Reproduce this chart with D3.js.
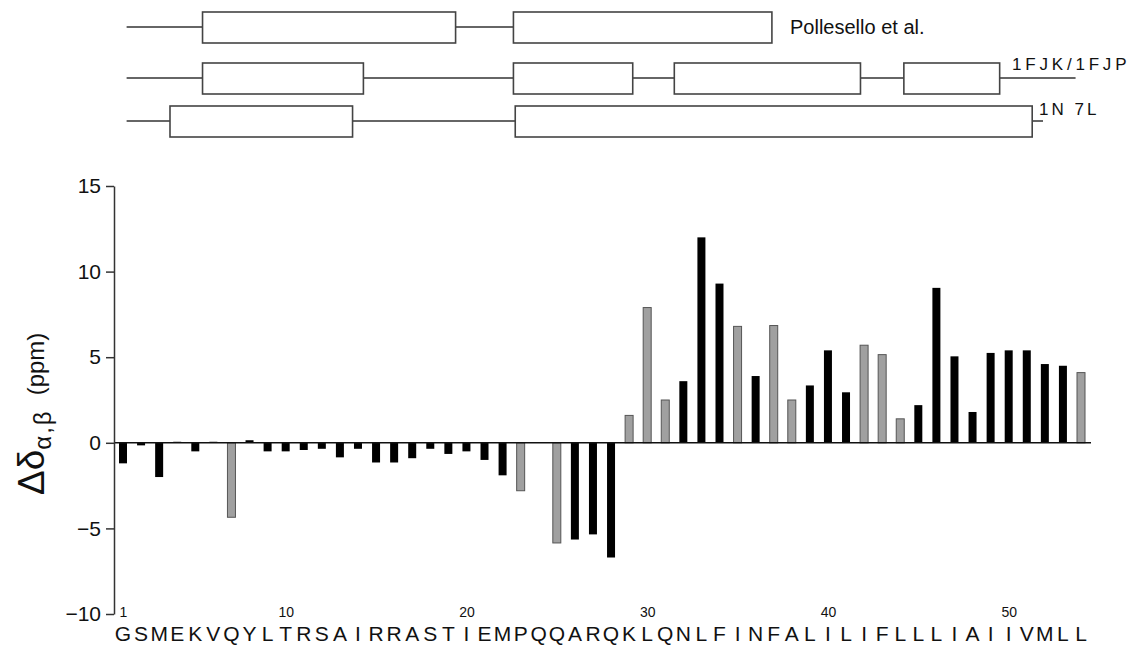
<!DOCTYPE html>
<html>
<head>
<meta charset="utf-8">
<script src="https://cdn.jsdelivr.net/npm/d3@7"></script>
<style>
  body { margin: 0; background: #fff; }
  svg { display: block; font-family: "Liberation Sans", Arial, sans-serif; }
</style>
</head>
<body>
<svg width="1143" height="648"></svg>
<script>
// chemical shift deviation per residue, with helix maps on top

// residue numbers and one-letter sequence
var residues = [1,2,3,4,5,6,7,8,9,10,11,12,13,14,15,16,17,18,19,20,21,22,23,24,25,26,27,
    28,29,30,31,32,33,34,35,36,37,38,39,40,41,42,43,44,45,46,47,48,49,50,51,52,53,54];
var sequence = ['G','S','M','E','K','V','Q','Y','L','T','R','S','A','I','R','R','A','S','T','I',
    'E','M','P','Q','Q','A','R','Q','K','L','Q','N','L','F','I','N','F','A','L','I',
    'L','I','F','L','L','L','I','A','I','I','V','M','L','L'];
// delta values (ppm), null = no data
var shifts = [-1.2,-0.15,-2.0,0.06,-0.5,0.06,-4.35,0.15,-0.5,-0.5,-0.42,-0.35,-0.85,-0.35,-1.15,
    -1.15,-0.9,-0.35,-0.65,-0.5,-1.0,-1.9,-2.8,null,-5.85,-5.65,-5.35,-6.7,1.6,7.9,
    2.5,3.6,12.0,9.3,6.8,3.9,6.85,2.5,3.35,5.4,2.95,5.7,5.15,1.4,2.2,9.05,5.05,1.8,5.25,
    5.4,5.4,4.6,4.5,4.1];
// residues drawn in grey
var greyResidues = [7,23,25,29,30,31,35,37,38,42,43,44,54];

var yTicks = [-10,-5,0,5,10,15];
var xTicks = [1,10,20,30,40,50];

// helix boxes in residue units, per structure
var trackNames = ['Pollesello et al.', '1FJK/1FJP', '1N7L'];
var polleselloHelices = [[5.4,19.4],[22.6,36.9]];
var fjkHelices = [[5.4,14.3],[22.6,29.2],[31.5,41.8],[44.2,49.5]];
var n7lHelices = [[3.6,13.7],[22.7,51.3]];
var trackLineEnds = [36.9, 53.7, 51.9];

const svg = d3.select('svg');

var x = d3.scaleLinear().domain([1,54]).range([123,1081]);
var y = d3.scaleLinear().domain([-10,15]).range([614,186]);

// ---- secondary structure tracks
var tracks = [
    {name: trackNames[0], helices: polleselloHelices, end: trackLineEnds[0]},
    {name: trackNames[1], helices: fjkHelices, end: trackLineEnds[1]},
    {name: trackNames[2], helices: n7lHelices, end: trackLineEnds[2]}
];
var trackY = [27, 78, 121];

var tg = svg.append('g');
tracks.forEach(function(t, i) {
    var cy = trackY[i];
    tg.append('line')
        .attr('x1', x(1.2)).attr('x2', x(t.end))
        .attr('y1', cy).attr('y2', cy)
        .attr('stroke', '#333').attr('stroke-width', 1.6);
    tg.selectAll('.h' + i)
        .data(t.helices)
        .enter()
        .append('rect')
        .attr('x', function(d) { return x(d[0]); })
        .attr('width', function(d) { return x(d[1]) - x(d[0]); })
        .attr('y', cy - 15)
        .attr('height', 31)
        .attr('fill', '#fff')
        .attr('stroke', '#444')
        .attr('stroke-width', 1.6);
});

tg.append('text')
    .attr('x', 790).attr('y', 34)
    .attr('font-size', 20)
    .attr('fill', '#111')
    .text(trackNames[0]);
tg.append('text')
    .attr('x', 1012).attr('y', 70)
    .attr('font-size', 17)
    .attr('letter-spacing', 3.8)
    .attr('fill', '#111')
    .text(trackNames[1]);
tg.append('text')
    .attr('x', 1039).attr('y', 115)
    .attr('font-size', 17)
    .attr('letter-spacing', 3)
    .attr('fill', '#111')
    .text('1N 7L');

// ---- bars
var bars = residues.map(function(r, i) {
    return {res: r, val: shifts[i], grey: greyResidues.indexOf(r) >= 0};
}).filter(function(d) { return d.val !== null; });

var bw = 8;
svg.append('g')
    .selectAll('rect')
    .data(bars)
    .enter()
    .append('rect')
    .attr('x', function(d) { return x(d.res) - bw / 2; })
    .attr('width', bw)
    .attr('y', function(d) { return y(Math.max(0, d.val)); })
    .attr('height', function(d) { return Math.abs(y(d.val) - y(0)); })
    .attr('fill', function(d) { return d.grey ? '#a0a0a0' : '#000'; })
    .attr('stroke', function(d) { return d.grey ? '#555' : 'none'; })
    .attr('stroke-width', 1);

// zero line
svg.append('line')
    .attr('x1', 114).attr('x2', 1091)
    .attr('y1', y(0)).attr('y2', y(0))
    .attr('stroke', '#111').attr('stroke-width', 1.5);

// ---- y axis
var yAxis = svg.append('g')
    .attr('transform', 'translate(114,0)')
    .call(d3.axisLeft(y).tickValues(yTicks).tickSize(8).tickSizeOuter(0).tickPadding(5));
yAxis.select('.domain').attr('stroke', '#333').attr('stroke-width', 1.5);
yAxis.selectAll('.tick line').attr('stroke', '#333').attr('stroke-width', 1.5);
yAxis.selectAll('.tick text')
    .attr('font-size', 21)
    .attr('font-family', '"Liberation Sans", Arial, sans-serif')
    .attr('fill', '#111');

// y label
var yl = svg.append('text')
    .attr('transform', 'translate(44,495) rotate(-90)')
    .attr('fill', '#111');
yl.append('tspan').attr('font-size', 37).text('\u0394\u03b4');
yl.append('tspan').attr('font-size', 24).attr('dy', 7).attr('letter-spacing', 2).text('\u03b1,\u03b2');
yl.append('tspan').attr('font-size', 24).attr('dy', -7).attr('dx', 14).text('(ppm)');

// ---- x labels: residue numbers and letters
var xAxis = svg.append('g')
    .attr('transform', 'translate(0,617)')
    .call(d3.axisBottom(x).tickValues(xTicks).tickSize(0).tickPadding(0));
xAxis.select('.domain').remove();
xAxis.selectAll('.tick text')
    .attr('dy', 0)
    .attr('font-size', 14)
    .attr('font-family', '"Liberation Sans", Arial, sans-serif')
    .attr('fill', '#111');

svg.append('g')
    .selectAll('text')
    .data(residues)
    .enter()
    .append('text')
    .attr('x', function(d) { return x(d); })
    .attr('y', 641)
    .attr('text-anchor', 'middle')
    .attr('font-size', 21)
    .attr('fill', '#111')
    .text(function(d, i) { return sequence[i]; });
</script>
</body>
</html>
